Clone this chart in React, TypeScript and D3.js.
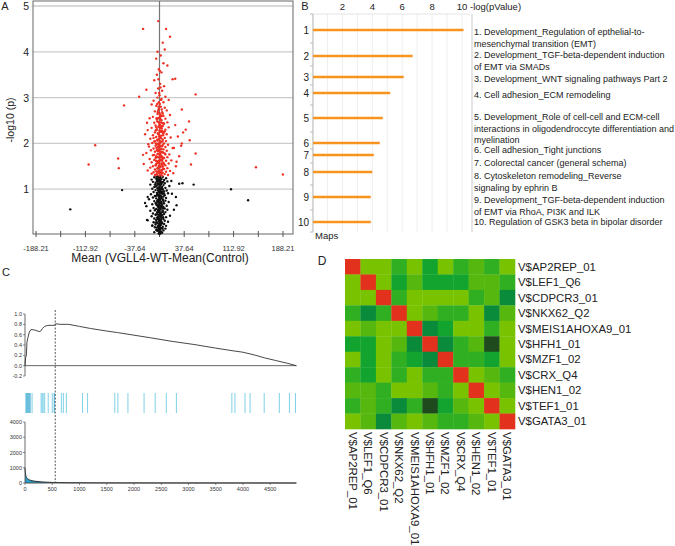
import React from "react";
import * as d3 from "d3";

// ---------- Panel A: volcano ----------
const volcanoRed: [number, number][] = [
  [-2,4.67],[-25,4.5],[10,4.5],[16,4.33],[5,4.2],[8,4.05],[-3,4.0],[2,3.92],[-5,3.85],[6,3.75],[12,3.7],[-1,3.62],[3,3.55],[-4,3.5],[20,3.4],[24,3.41],[-8,3.38],[1,3.3],[7,3.25],[-2,3.2],[-20,3.17],[4,3.15],[-6,3.1],[55,3.07],[0,3.05],[9,3.02],[-31,3.02],[-3,3.0],[3,2.97],[14,2.95],[-9,2.93],[6,2.9],
  [-54,2.83],[-12,2.85],[-5,2.82],[2,2.8],[8,2.78],[-1,2.75],[34,2.74],[11,2.72],[-7,2.7],[4,2.68],[0,2.66],[-3,2.64],[16,2.62],[6,2.6],[-10,2.58],[1,2.56],[-15,2.55],[9,2.54],[-4,2.52],[3,2.5],[45,2.48],[-2,2.47],[12,2.46],[-8,2.45],[7,2.43],[0,2.42],[24,2.4],[-6,2.39],[5,2.38],[-1,2.36],[14,2.35],[-12,2.34],[2,2.33],[-4,2.31],[9,2.3],[-18,2.29],[4,2.28],[0,2.27],[36,2.24],[-7,2.24],[6,2.22],[-2,2.21],[11,2.2],[-10,2.18],[3,2.17],[1,2.15],[-5,2.14],[17,2.13],[8,2.12],[-14,2.1],[-1,2.09],[5,2.08],[46,2.07],[-3,2.06],[10,2.05],[-8,2.04],[2,2.03],[34,2.0],[-11,2.01],[7,2.0],[0,1.99],[-98,1.96],[-4,1.98],[13,1.97],[-6,1.95],[4,1.94],[-16,1.93],[9,1.92],[-1,1.91],[20,1.9],[-9,1.89],[3,1.88],[6,1.87],[-2,1.86],[-13,1.85],[11,1.84],[0,1.83],[-7,1.82],[55,1.78],[5,1.8],[-20,1.79],[8,1.78],[-3,1.77],[15,1.76],[1,1.75],[-10,1.74],[-5,1.72],[4,1.71],[12,1.7],[-63,1.67],[-1,1.69],[7,1.68],[-15,1.66],[2,1.65],[-8,1.64],[18,1.63],[10,1.62],[-4,1.61],[0,1.6],[-12,1.59],[6,1.58],[-2,1.57],[14,1.56],[-24,1.55],[-108,1.54],[48,1.54],[3,1.55],[-6,1.53],[9,1.52],[-1,1.51],[25,1.5],[-10,1.5],[5,1.49],[147,1.48],[-62,1.46],[1,1.48],[-14,1.47],[12,1.46],[-3,1.45],[7,1.44],[-7,1.43],[3,1.42],[-18,1.41],[16,1.4],[0,1.4],[-5,1.39],[10,1.38],[-9,1.37],[5,1.36],[-2,1.36],[21,1.35],[-12,1.34],[2,1.34],[8,1.33],[188,1.32],[-4,1.32],[13,1.31],[-7,1.31],[0,1.3],[4,1.3],
  [28,2.15],[33,1.95],[22,1.9],[30,1.72],[26,1.6],[40,2.3],[-22,2.2],[-17,1.98],[-25,1.75],[-19,2.45],[-1,2.9],[1,2.6],[-2,2.0],[2,1.7],[-3,1.45],[3,2.25],[-1,1.62],[1,1.93],[0,2.15],[-2,2.55],[2,2.12],[-4,1.85],[4,1.62],[-5,2.35],[5,1.97],[-6,1.68],[6,2.44],[-7,2.05],[7,1.55],[-8,1.75],[8,2.26],[-9,2.12],[9,1.76],[0,1.72],[-1,1.38],[1,1.36],[-3,1.58],[3,1.82],[-2,2.72],[2,2.46],[-5,1.55],[5,2.65],[-6,2.28],[0,2.35],[0,1.5],[1,2.05],[-1,2.2],
  [-4.5,1.33],[2.5,1.37],[-0.5,1.41],[5.5,1.44],[-2.5,1.47],[1.5,1.5],[-5.5,1.52],[3.5,1.56],[-1.5,1.59],[0.5,1.63],[4.5,1.66],[-3.5,1.7],[2.5,1.73],[-0.5,1.77],[5.5,1.8],[-2.5,1.83],[1.5,1.87],[-4.5,1.9],[3.5,1.94],[-1.5,1.97],[0.5,2.01],[4.5,2.04],[-3.5,2.08],[2.5,2.11],[-0.5,2.15],[5.5,2.18],[-2.5,2.22],[1.5,2.26],[-4.5,2.29],[3.5,2.33],[-1.5,2.37],[0.5,2.4],[4.5,2.44],[-3.5,2.48],[2.5,2.52],[-0.5,2.56],[1.5,2.62],[-2.5,2.68],[3.5,2.74],[-1.5,2.8],[0.5,2.86],[2.5,2.95],[-0.5,3.1],[1.5,3.22],[-1.5,3.4],[0.5,3.58],[-3.5,1.38],[3.5,1.41],[-5.5,1.62],[5.5,1.68],[-5.5,2.0],[5.5,2.25],[-4.5,2.55],[4.5,1.52],[-2.5,1.92],[2.5,2.38],[0.5,1.35],[-0.5,1.56],[1.5,1.79],[-1.5,2.2],[0.5,2.28],[-0.5,2.45],[3.5,2.6],[-3.5,2.86],[0.5,1.95],[-0.5,1.85]
];

const volcanoBlack: [number, number][] = [
  [-57,0.98],[-136,0.56],[109,1.0],[135,0.76],[52,1.1],[25,0.83],[30,1.12],[35,1.13],[18,1.18],[22,0.55],[26,0.65],[19,0.9],[-19,0.33],[-18,0.83],[-22,0.7],[-11,0.2],
  [-3,1.28],[5,1.27],[-8,1.26],[1,1.25],[10,1.24],[-5,1.23],[3,1.22],[-12,1.21],[7,1.2],[0,1.19],[-2,1.18],[12,1.17],[-10,1.16],[4,1.15],[-6,1.14],[8,1.13],[-1,1.12],[2,1.11],[-14,1.1],[6,1.09],[-4,1.08],[15,1.07],[0,1.06],[-8,1.05],[3,1.04],[9,1.03],[-3,1.02],[-11,1.01],[5,1.0],[1,0.99],[-6,0.98],[11,0.97],[-1,0.96],[7,0.95],[-9,0.94],[2,0.93],[-4,0.92],[13,0.91],[4,0.9],[-13,0.89],[0,0.88],[8,0.87],[-2,0.86],[-7,0.85],[6,0.84],[3,0.83],[-10,0.82],[10,0.81],[-5,0.8],[1,0.79],[-16,0.78],[5,0.77],[-3,0.76],[9,0.75],[-8,0.74],[2,0.73],[14,0.72],[-1,0.71],[-6,0.7],[7,0.69],[0,0.68],[-11,0.67],[4,0.66],[-4,0.65],[11,0.64],[-20,0.63],[-2,0.62],[6,0.61],[3,0.6],[-9,0.59],[8,0.58],[-5,0.57],[1,0.56],[12,0.55],[-7,0.54],[-14,0.53],[5,0.52],[-1,0.51],[9,0.5],[-3,0.49],[2,0.48],[-10,0.47],[7,0.46],[0,0.45],[-6,0.44],[4,0.43],[16,0.42],[-12,0.41],[-2,0.4],[10,0.39],[-4,0.38],[3,0.37],[-8,0.36],[6,0.35],[1,0.34],[-5,0.33],[-18,0.32],[8,0.31],[-1,0.3],[13,0.29],[-9,0.28],[4,0.27],[-3,0.26],[0,0.25],[7,0.24],[-6,0.23],[2,0.22],[-11,0.21],[10,0.2],[-2,0.19],[5,0.18],[-7,0.17],[-4,0.16],[3,0.15],[9,0.14],[-1,0.13],[1,0.12],[-5,0.11],[6,0.1],[-3,0.09],[0,0.08],[2,0.07],[-8,0.06],[4,0.05],[-1,0.04],[1,0.03],[0,0.02],
  [-2,1.22],[2,1.16],[-1,1.03],[1,0.92],[-3,0.89],[3,0.7],[-2,0.55],[2,0.4],[-1,0.35],[1,0.62],[0,0.97],[0,0.76],[-4,1.18],[4,1.05],[-5,0.68],[5,0.5],[-6,0.27],[6,0.72],[-7,1.1],[7,0.9],[0,0.52],[0,0.3],[-1,0.18],[1,0.25],[-2,0.72],[2,1.0],[-3,0.45],[3,0.28],[-1,0.84],[1,1.13],[0,1.27],[-1,0.6],[1,0.45],[-2,0.97],[2,0.64],[-3,1.12],[3,0.95],[0,0.14],
  [-4.5,1.27],[2.5,1.23],[-0.5,1.2],[5.5,1.16],[-2.5,1.13],[1.5,1.09],[-5.5,1.06],[3.5,1.02],[-1.5,0.98],[0.5,0.95],[4.5,0.91],[-3.5,0.88],[2.5,0.84],[-0.5,0.81],[5.5,0.77],[-2.5,0.74],[1.5,0.7],[-4.5,0.67],[3.5,0.63],[-1.5,0.6],[0.5,0.56],[4.5,0.53],[-3.5,0.49],[2.5,0.46],[-0.5,0.42],[5.5,0.39],[-2.5,0.35],[1.5,0.32],[-4.5,0.28],[3.5,0.25],[-1.5,0.21],[0.5,0.18],[4.5,0.14],[-3.5,0.11],[2.5,0.07],[-0.5,0.04],[0.5,1.29],[-1.5,1.25],[1.5,1.18],[-0.5,1.1],[0.5,1.01],[-1.5,0.93],[1.5,0.86],[-0.5,0.78],[0.5,0.71],[-1.5,0.64],[1.5,0.57],[-0.5,0.5],[0.5,0.43],[-1.5,0.37],[1.5,0.3],[-0.5,0.23],[0.5,0.16],[-1.5,0.1],[3.5,1.14],[-3.5,1.2],[3.5,0.8],[-3.5,0.72],[-5.5,0.85],[5.5,0.58],[-5.5,0.45],[5.5,0.95],[-2.5,0.52],[2.5,0.33],[0.5,0.62],[-0.5,0.66]
];

const volcanoTicks = [-188.21, -150.57, -112.92, -75.28, -37.64, 0, 37.64, 75.28, 112.92, 150.57, 188.21];
const volcanoTickLabels = ["-188.21", "-112.92", "-37.64", "37.64", "112.92", "188.21"];
const volcanoLabelValues = [-188.21, -112.92, -37.64, 37.64, 112.92, 188.21];
const volcanoYTicks = [1, 2, 3, 4, 5];

// ---------- Panel B: pathway maps ----------
const mapIds = ["1", "2", "3", "4", "5", "6", "7", "8", "9", "10"];
const mapValues = [10.1, 6.7, 6.1, 5.2, 4.7, 4.5, 4.1, 4.0, 3.9, 3.9];
const mapTicks = [2, 4, 6, 8, 10];
const mapTextLines: string[][] = [
  ["1. Development_Regulation of epthelial-to-", "mesenchymal transition (EMT)"],
  ["2. Development_TGF-beta-dependent induction", "of EMT via SMADs"],
  ["3. Development_WNT signaling pathways Part 2"],
  ["4. Cell adhesion_ECM remodeling"],
  ["5. Development_Role of cell-cell and ECM-cell", "interactions in oligodendroccyte differentiation and", "myelination"],
  ["6. Cell adhesion_Tight junctions"],
  ["7. Colorectal cancer (general schema)"],
  ["8. Cytoskeleton remodeling_Reverse", "signaling by ephrin B"],
  ["9. Development_TGF-beta-dependent induction", "of EMT via RhoA, PI3K and ILK"],
  ["10. Regulation of GSK3 beta in bipolar disorder"],
];

// ---------- Panel C: enrichment ----------
const esCurve: [number, number][] = [
  [0,0],[10,0.15],[25,0.2],[35,0.45],[55,0.55],[80,0.65],[110,0.7],[180,0.69],[260,0.66],[290,0.67],[320,0.72],[360,0.76],[420,0.78],[480,0.78],[540,0.78],[560,0.81],[650,0.8],[800,0.8],[1000,0.76],[1200,0.72],[1500,0.67],[1700,0.64],[2000,0.59],[2300,0.54],[2700,0.47],[3100,0.41],[3500,0.34],[3800,0.29],[4000,0.26],[4200,0.21],[4400,0.15],[4600,0.1],[4800,0.05],[4980,0]
];
const hitRanks = [19,37,56,74,93,130,296,315,333,361,426,500,537,667,704,759,1056,1148,1648,1704,1889,2185,2389,2593,2778,3796,3852,4037,4130,4389,4667,4852,4963];
const rankMetric: [number, number][] = [
  [0,1000],[10,600],[30,350],[60,250],[100,180],[200,110],[350,60],[500,40],[800,20],[1500,8],[3000,3],[4980,0]
];
const esTicks = [-0.2, 0, 0.2, 0.4, 0.6, 0.8, 1.0];
const rankTicks = [0, 500, 1000, 1500, 2000, 2500, 3000, 3500, 4000, 4500];
const metricTicks = [0, 1000, 2000, 3000, 4000];
const leadingEdgeRank = 555;

// ---------- Panel D: motif similarity ----------
const motifs = ["V$AP2REP_01","V$LEF1_Q6","V$CDPCR3_01","V$NKX62_Q2","V$MEIS1AHOXA9_01","V$HFH1_01","V$MZF1_02","V$CRX_Q4","V$HEN1_02","V$TEF1_01","V$GATA3_01"];
const motifSimilarity: number[][] = [
  [1.0,0.1,0.1,0.3,0.1,0.4,0.1,0.3,0.2,0.3,0.1],
  [0.1,1.0,0.1,0.4,0.2,0.4,0.4,0.4,0.2,0.2,0.3],
  [0.1,0.1,1.0,0.3,0.1,0.1,0.1,0.1,0.3,0.2,0.5],
  [0.3,0.5,0.3,1.0,0.1,0.2,0.3,0.3,0.1,0.5,0.2],
  [0.1,0.2,0.1,0.1,1.0,0.5,0.4,0.1,0.1,0.3,0.1],
  [0.4,0.4,0.1,0.2,0.5,1.0,0.5,0.3,0.2,0.7,0.1],
  [0.1,0.4,0.1,0.3,0.4,0.5,1.0,0.3,0.3,0.4,0.1],
  [0.3,0.4,0.1,0.3,0.1,0.3,0.3,1.0,0.1,0.2,0.3],
  [0.2,0.2,0.3,0.1,0.1,0.2,0.3,0.1,1.0,0.1,0.2],
  [0.3,0.2,0.3,0.5,0.3,0.7,0.4,0.2,0.1,1.0,0.1],
  [0.1,0.2,0.5,0.2,0.1,0.2,0.3,0.3,0.2,0.1,1.0],
];

const FONT = "'Liberation Sans', Arial, Helvetica, sans-serif";

export default function App() {
  // Panel A scales
  const ax = d3.scaleLinear().domain([-188.21, 188.21]).range([36, 283]);
  const ay = d3.scaleLinear().domain([0, 5]).range([235, 6]);

  // Panel B scales
  const bx = d3.scaleLinear().domain([0, 10]).range([312.5, 462]);
  const barY = [30, 56, 77, 93, 118, 143, 155, 172, 197, 222];
  const textY = [[32, 43.5], [55, 67], [79], [95], [117, 129, 140], [150], [163], [176, 187.5], [200, 211.5], [221.5]];

  // Panel C scales
  const cx = d3.scaleLinear().domain([0, 4980]).range([25, 296.4]);
  const cyES = d3.scaleLinear().domain([-0.2, 1.0]).range([376, 314]);
  const cyM = d3.scaleLinear().domain([0, 4000]).range([483, 422]);
  const esLine = d3.line<[number, number]>().x(d => cx(d[0])).y(d => cyES(d[1]));
  const mArea = d3.area<[number, number]>().x(d => cx(d[0])).y0(cyM(0)).y1(d => cyM(d[1])).curve(d3.curveMonotoneX);
  const mLine = d3.line<[number, number]>().x(d => cx(d[0])).y(d => cyM(d[1])).curve(d3.curveMonotoneX);

  // Panel D scales
  const dx = d3.scaleBand<number>().domain(d3.range(motifs.length)).range([345, 515]);
  const dy = d3.scaleBand<number>().domain(d3.range(motifs.length)).range([259, 429]);
  const heatColor = d3.scaleThreshold<number, string>()
    .domain([0.15, 0.25, 0.35, 0.45, 0.6, 0.9])
    .range(["#79c200", "#56b70e", "#31af22", "#12a42e", "#0a8a3b", "#1f4a1e", "#e2311d"]);

  return (
    <svg width={675} height={546} style={{ position: "absolute", left: 0, top: 0, background: "#fff" }} fontFamily={FONT}>
      <rect width={675} height={546} fill="#fff" />
      {/* ===== Panel A ===== */}
      <text x={5} y={6} fontSize={11} dominantBaseline="central" textAnchor="middle" fill="#222">A</text>
      {volcanoYTicks.map(t => (
        <g key={"ag" + t}>
          <line x1={33} x2={293} y1={ay(t)} y2={ay(t)} stroke="#cccccc" strokeWidth={1.3} />
          <text x={29} y={ay(t)} fontSize={10.5} textAnchor="end" dominantBaseline="central" fill="#222">{t}</text>
        </g>
      ))}
      <line x1={ax(0)} x2={ax(0)} y1={1} y2={234} stroke="#777" strokeWidth={1.2} />
      <rect x={33} y={1} width={260} height={233} fill="none" stroke="#666" strokeWidth={1} />
      {volcanoTicks.map((t, i) => (
        <line key={"at" + i} x1={ax(t)} x2={ax(t)} y1={231} y2={237} stroke="#555" strokeWidth={1} />
      ))}
      {volcanoTickLabels.map((l, i) => (
        <text key={"al" + i} x={ax(volcanoLabelValues[i])} y={248} fontSize={7.5} textAnchor="middle" dominantBaseline="central" fill="#333">{l}</text>
      ))}
      {volcanoBlack.map((p, i) => (
        <circle key={"vb" + i} cx={ax(p[0])} cy={ay(p[1])} r={1.2} fill="#111" />
      ))}
      {volcanoRed.map((p, i) => (
        <circle key={"vr" + i} cx={ax(p[0])} cy={ay(p[1])} r={1.2} fill="#ee3124" />
      ))}
      <text x={160} y={258} fontSize={12} textAnchor="middle" dominantBaseline="central" fill="#222">Mean (VGLL4-WT-Mean(Control)</text>
      <text transform="translate(10,120) rotate(-90)" fontSize={10.5} textAnchor="middle" dominantBaseline="central" fill="#222">-log10 (p)</text>

      {/* ===== Panel B ===== */}
      <text x={305} y={6} fontSize={11} textAnchor="middle" dominantBaseline="central" fill="#222">B</text>
      {d3.range(0, 11).map(v => (
        <line key={"bg" + v} x1={bx(v)} x2={bx(v)} y1={14} y2={232} stroke="#eeeeee" strokeWidth={1} />
      ))}
      <line x1={313} x2={470} y1={14} y2={14} stroke="#e4e4e4" strokeWidth={1} />
      <line x1={313} x2={313} y1={14} y2={232} stroke="#bbb" strokeWidth={1} />
      <line x1={472} x2={472} y1={14} y2={232} stroke="#ccc" strokeWidth={1} />
      {mapTicks.map(t => (
        <text key={"bt" + t} x={bx(t)} y={6} fontSize={9.5} textAnchor="middle" dominantBaseline="central" fill="#222">{t}</text>
      ))}
      <text x={470} y={6} fontSize={9.5} dominantBaseline="central" fill="#222">-log(pValue)</text>
      {[14, 43, 66, 85, 105, 132, 149, 163, 185, 210, 232].map((y, i) => (
        <line key={"btk" + i} x1={310} x2={313} y1={y} y2={y} stroke="#bbb" strokeWidth={1} />
      ))}
      {mapValues.map((v, i) => (
        <g key={"bb" + i}>
          <line x1={313} x2={bx(v)} y1={barY[i]} y2={barY[i]} stroke="#f7941d" strokeWidth={2.4} />
          <text x={309} y={barY[i]} fontSize={10} textAnchor="end" dominantBaseline="central" fill="#222">{mapIds[i]}</text>
        </g>
      ))}
      <text x={315} y={235} fontSize={9.5} dominantBaseline="central" fill="#222">Maps</text>
      {mapTextLines.map((lines, i) => lines.map((ln, j) => (
        <text key={"bl" + i + "-" + j} x={474} y={textY[i][j]} fontSize={9} dominantBaseline="central" fill="#222">{ln}</text>
      )))}

      {/* ===== Panel C ===== */}
      <text x={6} y={272} fontSize={11} textAnchor="middle" dominantBaseline="central" fill="#222">C</text>
      <line x1={25} x2={25} y1={cyES(1.0)} y2={cyES(-0.2)} stroke="#444" strokeWidth={0.8} />
      {esTicks.map(t => (
        <g key={"ct" + t}>
          <line x1={23} x2={25} y1={cyES(t)} y2={cyES(t)} stroke="#444" strokeWidth={0.6} />
          <text x={22} y={cyES(t)} fontSize={5.5} textAnchor="end" dominantBaseline="central" fill="#333">{t.toFixed(1)}</text>
        </g>
      ))}
      <line x1={25} x2={296.4} y1={cyES(0)} y2={cyES(0)} stroke="#555" strokeWidth={0.9} />
      <path d={esLine(esCurve) || ""} fill="none" stroke="#333" strokeWidth={0.9} />
      {hitRanks.map((r, i) => (
        <line key={"ch" + i} x1={cx(r)} x2={cx(r)} y1={393} y2={413} stroke={r < 120 || r === 537 ? "#3aa9d2" : "#7fd0e8"} strokeWidth={1} />
      ))}
      <path d={mArea(rankMetric) || ""} fill="#2a9ec6" />
      <path d={mLine(rankMetric) || ""} fill="none" stroke="#222" strokeWidth={0.9} />
      <line x1={25} x2={25} y1={cyM(4000)} y2={cyM(0)} stroke="#444" strokeWidth={0.8} />
      {metricTicks.map(t => (
        <g key={"cm" + t}>
          <line x1={23} x2={25} y1={cyM(t)} y2={cyM(t)} stroke="#444" strokeWidth={0.6} />
          <text x={22} y={cyM(t)} fontSize={5.5} textAnchor="end" dominantBaseline="central" fill="#333">{t}</text>
        </g>
      ))}
      <line x1={25} x2={296.4} y1={cyM(0)} y2={cyM(0)} stroke="#444" strokeWidth={0.9} />
      {rankTicks.map(t => (
        <g key={"cr" + t}>
          <line x1={cx(t)} x2={cx(t)} y1={cyM(0)} y2={cyM(0) + 2} stroke="#444" strokeWidth={0.6} />
          <text x={cx(t)} y={489} fontSize={5.5} textAnchor="middle" dominantBaseline="central" fill="#333">{t}</text>
        </g>
      ))}
      <line x1={cx(leadingEdgeRank)} x2={cx(leadingEdgeRank)} y1={310} y2={cyM(0)} stroke="#444" strokeWidth={0.9} strokeDasharray="2,1.5" />

      {/* ===== Panel D ===== */}
      <text x={322} y={261} fontSize={12} textAnchor="middle" dominantBaseline="central" fill="#222">D</text>
      {motifSimilarity.map((row, i) => row.map((v, j) => (
        <rect key={"d" + i + "-" + j} x={dx(j)} y={dy(i)} width={dx.bandwidth() + 0.3} height={dy.bandwidth() + 0.3} fill={heatColor(v)} />
      )))}
      {motifs.map((m, i) => (
        <text key={"dr" + i} x={518} y={(dy(i) || 0) + dy.bandwidth() / 2} fontSize={11.4} dominantBaseline="central" fill="#222">{m}</text>
      ))}
      {motifs.map((m, i) => (
        <text key={"dc" + i} transform={`translate(${(dx(i) || 0) + dx.bandwidth() / 2},432) rotate(90)`} fontSize={11.4} dominantBaseline="central" fill="#222">{m}</text>
      ))}
    </svg>
  );
}
